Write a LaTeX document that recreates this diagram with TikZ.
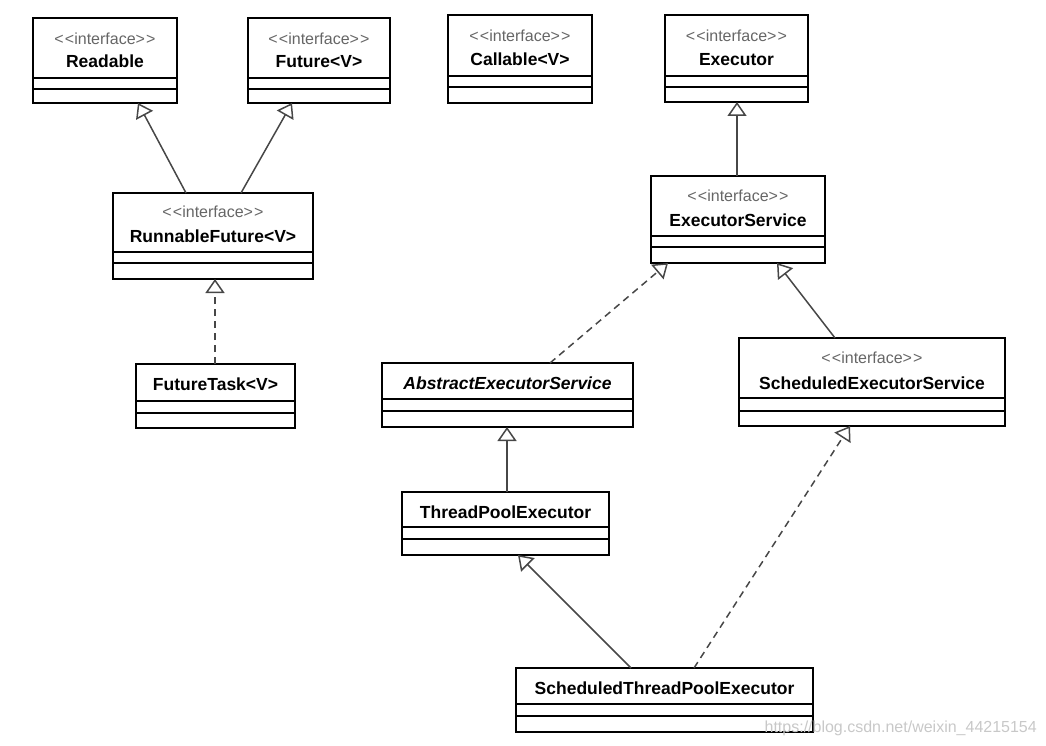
\documentclass[tikz,border=0pt]{standalone}
\usepackage{fontspec}
\setmainfont{Liberation Sans}
\usetikzlibrary{arrows.meta,calc}
\tikzset{
  classbox/.style={draw=black, line width=2.6pt, inner sep=0pt, outer sep=0pt, anchor=north west, fill=white},
  divider/.style={draw=black, line width=1.3pt},
  stereo/.style={anchor=base, text=black!60, font=\fontsize{16}{16}\selectfont, inner sep=0pt},
  cname/.style={anchor=base, font=\fontsize{17.5}{17.5}\selectfont\bfseries, inner sep=0pt},
  gen/.style={draw=black!72, line width=1.5pt, -{Triangle[open, length=14pt, width=19pt]}},
  realize/.style={gen, dash pattern=on 7pt off 5pt},
  watermark/.style={anchor=base east, text={rgb,255:red,200;green,200;blue,200}, font=\fontsize{16}{16}\selectfont, inner sep=0pt},
}
\newcommand{\stereotxt}{{<}\kern1.2pt{<}interface{>}\kern1.2pt{>}}
% #1 id, #2 left, #3 top, #4 right, #5 bottom, #6 divider1, #7 divider2
\newcommand{\umlclass}[7]{%
  \node[classbox, minimum width={(#4-#2)*1pt}, minimum height={(#5-#3)*1pt}] (#1) at (#2,#3) {};
  \draw[divider] (#2,#6) -- (#4,#6);
  \draw[divider] (#2,#7) -- (#4,#7);
}
\begin{document}
\begin{tikzpicture}[x=1pt, y=-1pt]
\useasboundingbox (0,0) rectangle (1046,746);

% classes
\umlclass{rd}{33}{18}{177}{103}{78}{89}
\node[stereo] (rds) at ($(rd.north)+(0,27)$) {\stereotxt};
\node[cname] (rdn) at ($(rd.north)+(0,50)$) {Readable};

\umlclass{fu}{248}{18}{390}{103}{78}{89}
\node[stereo] (fus) at ($(fu.north)+(0,27)$) {\stereotxt};
\node[cname] (fun) at ($(fu.north)+(0,50)$) {Future{<}V{>}};

\umlclass{ca}{448}{15}{592}{103}{76}{87}
\node[stereo] (cas) at ($(ca.north)+(0,27)$) {\stereotxt};
\node[cname] (can) at ($(ca.north)+(0,51)$) {Callable{<}V{>}};

\umlclass{ex}{665}{15}{808}{102}{76}{87}
\node[stereo] (exs) at ($(ex.north)+(0,27)$) {\stereotxt};
\node[cname] (exn) at ($(ex.north)+(0,51)$) {Executor};

\umlclass{rf}{113}{193}{313}{279}{252}{263}
\node[stereo] (rfs) at ($(rf.north)+(0,24)$) {\stereotxt};
\node[cname] (rfn) at ($(rf.north)+(0,49)$) {RunnableFuture{<}V{>}};

\umlclass{ft}{136}{364}{295}{428}{401}{413}
\node[cname] (ftn) at ($(ft.north)+(0,26)$) {FutureTask{<}V{>}};

\umlclass{es}{651}{176}{825}{263}{236}{247}
\node[stereo] (ess) at ($(es.north)+(0,25)$) {\stereotxt};
\node[cname] (esn) at ($(es.north)+(0,50)$) {ExecutorService};

\umlclass{aes}{382}{363}{633}{427}{399}{411}
\node[cname, font=\fontsize{17.5}{17.5}\selectfont\bfseries\itshape] (aesn) at ($(aes.north)+(0,26)$) {AbstractExecutorService};

\umlclass{ses}{739}{338}{1005}{426}{398}{411}
\node[stereo] (sess) at ($(ses.north)+(0,25)$) {\stereotxt};
\node[cname] (sesn) at ($(ses.north)+(0,51)$) {ScheduledExecutorService};

\umlclass{tpe}{402}{492}{609}{555}{527}{539}
\node[cname] (tpen) at ($(tpe.north)+(0,26)$) {ThreadPoolExecutor};

\umlclass{stpe}{516}{668}{813}{732}{704}{716}
\node[cname] (stpen) at ($(stpe.north)+(0,26)$) {ScheduledThreadPoolExecutor};

% connectors
\draw[gen] ($(rf.north west)+(73,0)$) -- ($(rd.south west)+(105,0)$);
\draw[gen] ($(rf.north west)+(128,0)$) -- ($(fu.south west)+(44,0)$);
\draw[realize] ($(ft.north west)+(79,0)$) -- ($(rf.south west)+(102,0)$);
\draw[gen] ($(es.north west)+(86,0)$) -- ($(ex.south west)+(72,0)$);
\draw[realize] ($(aes.north west)+(168,0)$) -- ($(es.south west)+(17,0)$);
\draw[gen] ($(ses.north west)+(96,0)$) -- ($(es.south west)+(126,0)$);
\draw[gen] ($(tpe.north west)+(105,0)$) -- ($(aes.south west)+(125,0)$);
\draw[gen] ($(stpe.north west)+(115,0)$) -- ($(tpe.south west)+(116,0)$);
\draw[realize] ($(stpe.north west)+(178,0)$) -- ($(ses.south west)+(111,0)$);

% watermark
\node[watermark] (wm) at (1037,732) {https://blog.csdn.net/weixin\_44215154};
\end{tikzpicture}
\end{document}
